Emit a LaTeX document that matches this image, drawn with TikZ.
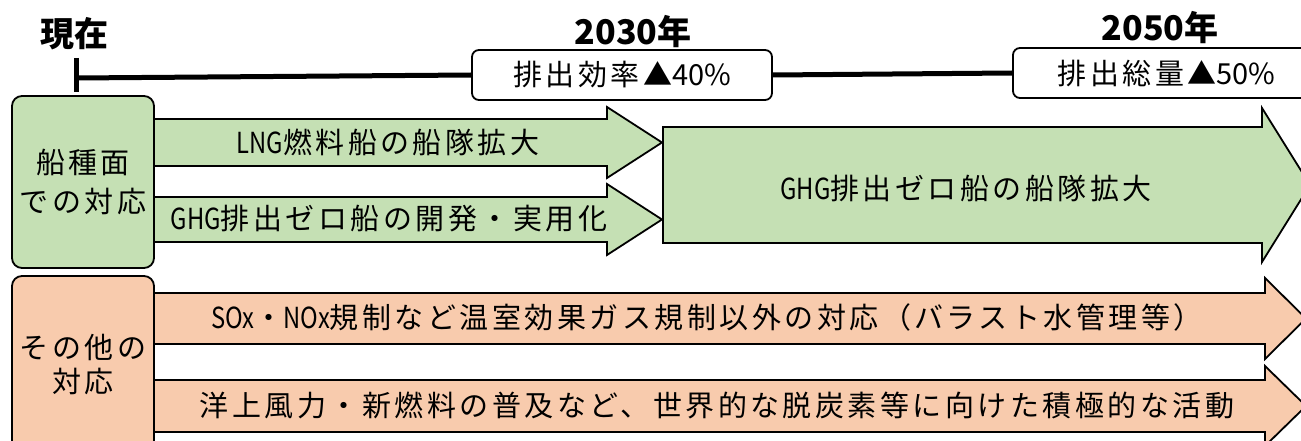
\documentclass[tikz,border=0pt]{standalone}
\usepackage{fontspec}
\setmainfont{Noto Sans CJK JP}
\newfontfamily\jpls{Noto Sans CJK JP}[LetterSpace=12]
\newfontfamily\latn{Noto Sans CJK JP}[FakeStretch=0.82]
\newcommand\la[1]{{\latn #1}}
\newcommand\dg[1]{{\rmfamily #1}}
\definecolor{grn}{HTML}{C5E0B4}
\definecolor{org}{HTML}{F8CBAD}
\newcommand\bodyfont{\jpls\fontsize{29}{34}\selectfont}
\newcommand\titlefont{\bfseries\fontsize{34}{38}\selectfont}
\begin{document}
\begin{tikzpicture}[x=1pt,y=-1pt,
  shp/.style={draw=black,line width=1.8pt,line join=miter},
  btxt/.style={inner sep=0pt,font=\bodyfont},
  ttl/.style={inner sep=0pt,font=\titlefont},
  tbox/.style={draw=black,line width=1.8pt,fill=white,rounded corners=7pt,inner sep=0pt,font=\bodyfont},
  lbox/.style={draw=black,line width=1.8pt,rounded corners=10pt,inner sep=0pt,align=center,minimum width=142pt},
  tl/.style={line width=5pt}]
\useasboundingbox (0,0) rectangle (1301,441);

% titles
\node[ttl] (now) at (74,34) {現在};
\node[ttl] (y30) at (633,32) {2030年};
\node[ttl] (y50) at (1160,28) {2050年};

% timeline
\coordinate (t0) at (76,78);
\node[tbox,minimum width=300pt,minimum height=50pt] (b30) at (622,75) {排出効率▲\dg{40\%}};
\node[tbox,minimum width=307pt,minimum height=50pt] (b50) at (1166.5,73) {排出総量▲\dg{50\%}};
\draw[tl] (t0) -- (b30.west);
\draw[tl] (b30.east) -- (b50.west);
\draw[tl] ([yshift=20pt]t0) -- ([yshift=-14pt]t0);

% green arrows
\draw[shp,fill=grn] (154,119) -- (607,119) -- (607,107) -- (662,142.5) -- (607,178) -- (607,166) -- (154,166) -- cycle;
\draw[shp,fill=grn] (154,197) -- (607,197) -- (607,184) -- (662,219.5) -- (607,255) -- (607,242) -- (154,242) -- cycle;
\draw[shp,fill=grn] (663,127) -- (1262,127) -- (1262,108) -- (1310,185) -- (1262,262) -- (1262,243) -- (663,243) -- cycle;

% orange arrows
\draw[shp,fill=org] (154,293) -- (1265,293) -- (1265,278) -- (1306,318.5) -- (1265,359) -- (1265,344) -- (154,344) -- cycle;
\draw[shp,fill=org] (154,380) -- (1265,380) -- (1265,366) -- (1306,406) -- (1265,446) -- (1265,432) -- (154,432) -- cycle;

% side boxes
\node[lbox,fill=grn,minimum height=172pt,font=\jpls\fontsize{29}{39}\selectfont] (gbox) at (83,182) {船種面\\での対応};
\node[lbox,fill=org,minimum height=178pt,font=\jpls\fontsize{29}{34}\selectfont] (obox) at (83,365) {その他の\\対応};

% arrow texts
\node[btxt] (a1) at (388,142) {\la{LNG}燃料船の船隊拡大};
\node[btxt] (a2) at (389,219) {\la{GHG}排出ゼロ船の開発・実用化};
\node[btxt] (a3) at (966,188) {\la{GHG}排出ゼロ船の船隊拡大};
\node[btxt] (a4) at (707,317) {\la{SOx}・\la{NOx}規制など温室効果ガス規制以外の対応（バラスト水管理等）};
\node[btxt] (a5) at (717,405) {洋上風力・新燃料の普及など、世界的な脱炭素等に向けた積極的な活動};
\end{tikzpicture}
\end{document}
